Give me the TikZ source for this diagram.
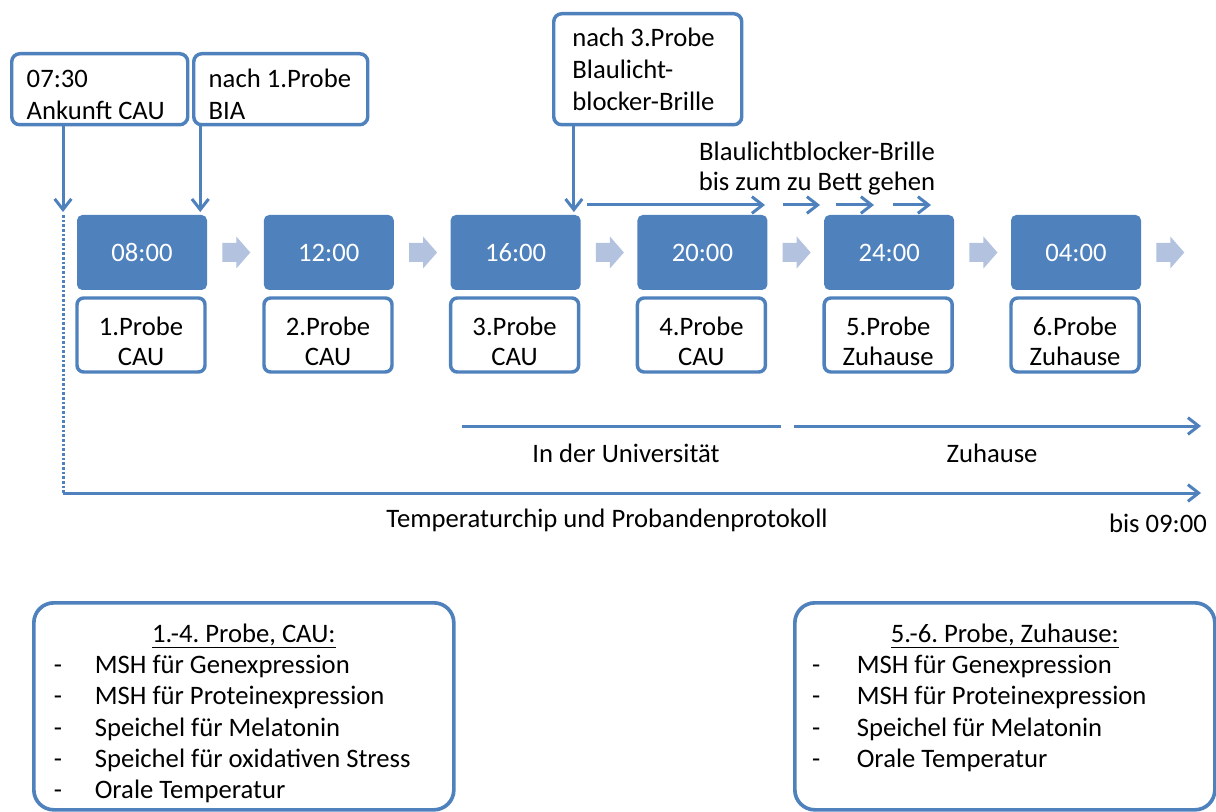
\documentclass[tikz,border=0pt]{standalone}
\usepackage{fontspec}
\setmainfont{Carlito}
\usetikzlibrary{arrows.meta,calc}
\definecolor{dblue}{RGB}{79,129,189}
\definecolor{lblue}{RGB}{178,194,223}
\frenchspacing
\begin{document}
\begin{tikzpicture}[x=0.75pt,y=-0.75pt,
  topbox/.style={draw=dblue, line width=2.6pt, rounded corners=6pt, fill=white,
    font=\fontsize{20}{24}\selectfont, align=flush left, inner ysep=0pt, anchor=north west},
  timebox/.style={fill=dblue, rounded corners=4pt, text=white, minimum width=97.5pt,
    minimum height=56.25pt, font=\fontsize{20}{24}\selectfont},
  probebox/.style={draw=dblue, line width=2.6pt, rounded corners=5pt, fill=white,
    minimum width=96pt, minimum height=55.5pt, align=center, inner sep=0pt,
    font=\fontsize{20}{22.5}\selectfont},
  lbl/.style={font=\fontsize{20}{22.5}\selectfont, inner sep=0pt},
  listbox/.style={draw=dblue, line width=2.75pt, rounded corners=15pt, fill=white,
    inner ysep=0pt, anchor=north west,
    font=\fontsize{20}{23.5}\selectfont},
  plainline/.style={draw=dblue, line width=2.25pt},
  conn/.style={draw=dblue, line width=2.25pt, -{Straight Barb[length=8pt,width=12.5pt]}},
  dotline/.style={draw=dblue, line width=2.25pt, dash pattern=on 2pt off 1.5pt}
]
\useasboundingbox (0,0) rectangle (1216,812);

% top boxes
\node[topbox, text width=109.5pt, inner xsep=11.25pt, minimum height=53.25pt] (A) at (10,52) {\rule{0pt}{21pt}07:30\\Ankunft CAU};
\node[topbox, text width=108pt, inner xsep=11.25pt, minimum height=53.25pt] (B) at (192,52) {\rule{0pt}{21pt}nach 1.Probe\\BIA};
\node[topbox, text width=113pt, inner xsep=14pt, minimum height=83.25pt] (C) at (552,12) {nach 3.Probe\\Blaulicht-\\blocker-Brille};

% time boxes
\node[timebox] (t1) at (142,252.5) {08:00};
\node[timebox] (t2) at (328.8,252.5) {12:00};
\node[timebox] (t3) at (515.6,252.5) {16:00};
\node[timebox] (t4) at (702.4,252.5) {20:00};
\node[timebox] (t5) at (889.2,252.5) {24:00};
\node[timebox] (t6) at (1076,252.5) {04:00};

% probe boxes
\node[probebox] (p1) at (141,335) {\rule{0pt}{23pt}1.Probe\\CAU};
\node[probebox] (p2) at (328,335) {\rule{0pt}{23pt}2.Probe\\CAU};
\node[probebox] (p3) at (514.6,335) {\rule{0pt}{23pt}3.Probe\\CAU};
\node[probebox] (p4) at (701.4,335) {\rule{0pt}{23pt}4.Probe\\CAU};
\node[probebox] (p5) at (888.2,335) {\rule{0pt}{23pt}5.Probe\\Zuhause};
\node[probebox] (p6) at (1075,335) {\rule{0pt}{23pt}6.Probe\\Zuhause};

% light block arrows
\foreach \i in {1,...,6}{
  \fill[lblue] ($(t\i.east)+(15,-9.5)$) -- ++(14,0) -- ++(0,-6.5) -- ++(14,16)
    -- ++(-14,16) -- ++(0,-6.5) -- ++(-14,0) -- cycle;
}

% vertical arrows
\coordinate (a0) at (63,212);
\coordinate (d0) at (63,215);
\coordinate (d1) at (63,493);
\coordinate (tEnd) at (1201,493);
\draw[conn] (a0 |- A.south) -- (a0);
\draw[conn] ([xshift=-5.25pt]t1.north east |- B.south) -- ([xshift=-5.25pt,yshift=2pt]t1.north east);
\draw[conn] ([xshift=-5.25pt]t3.north east |- C.south) -- ([xshift=-5.25pt,yshift=2pt]t3.north east);

% dotted and bottom timeline
\draw[dotline] (d0) -- (d1);
\draw[conn] (d1) -- (tEnd);

% Blaulicht arrows
\coordinate (b0) at (587,205);
\coordinate (b1) at (765,205);
\coordinate (b2) at (783,205);
\coordinate (b3) at (820,205);
\coordinate (b4) at (836,205);
\coordinate (b5) at (874,205);
\coordinate (b6) at (893,205);
\coordinate (b7) at (931,205);
\draw[conn] (b0) -- (b1);
\draw[conn] (b2) -- (b3);
\draw[conn] (b4) -- (b5);
\draw[conn] (b6) -- (b7);
\node[lbl, align=center] (blt) at (817,169) {Blaulichtblocker-Brille\\bis zum zu Bett gehen};

% location lines
\coordinate (u0) at (462,426);
\coordinate (u1) at (781,426);
\coordinate (z0) at (794,426);
\coordinate (z1) at (1201,426);
\draw[plainline] (u0) -- (u1);
\draw[conn] (z0) -- (z1);
\node[lbl] (uni) at (626,453) {In der Universität};
\node[lbl] (zu) at (992,453) {Zuhause};
\node[lbl] (temp) at (607,520) {Temperaturchip und Probandenprotokoll};
\node[lbl] (bis) at (1158,523) {bis 09:00};

% bottom list boxes
\node[listbox, inner xsep=15pt] (L) at (32,601) {\parbox[c][155.25pt][t]{285pt}{\vspace*{13pt}%
\begin{tabular}[t]{@{}p{30.75pt}@{}p{254.25pt}@{}}
\multicolumn{2}{@{}c@{}}{\underline{1.-4. Probe, CAU:}}\\
-&MSH für Genexpression\\
-&MSH für Proteinexpression\\
-&Speichel für Melatonin\\
-&Speichel für oxidativen Stress\\
-&Orale Temperatur
\end{tabular}}};
\node[listbox, inner xsep=13pt] (R) at (793,601) {\parbox[c][155.25pt][t]{289pt}{\vspace*{13pt}%
\begin{tabular}[t]{@{}p{33.5pt}@{}p{255.5pt}@{}}
\multicolumn{2}{@{}c@{}}{\underline{5.-6. Probe, Zuhause:}}\\
-&MSH für Genexpression\\
-&MSH für Proteinexpression\\
-&Speichel für Melatonin\\
-&Orale Temperatur
\end{tabular}}};
\end{tikzpicture}
\end{document}
